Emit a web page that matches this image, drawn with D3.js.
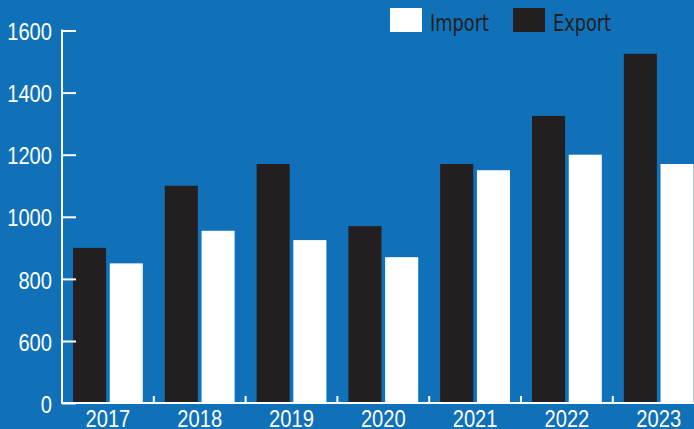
<!DOCTYPE html>
<html>
<head>
<meta charset="utf-8">
<script src="https://cdn.jsdelivr.net/npm/d3@7"></script>
<style>
  html, body { margin: 0; padding: 0; background: #1071b9; overflow: hidden; }
  svg { display: block; font-family: "DejaVu Sans Condensed", "Liberation Sans", sans-serif; }
</style>
</head>
<body>
<svg id="chart" width="694" height="429"></svg>
<script>
const years = ["2017", "2018", "2019", "2020", "2021", "2022", "2023"];
const seriesNames = ["Export", "Import"];
const exportValues = [900, 1100, 1170, 970, 1170, 1325, 1525];
const importValues = [850, 955, 925, 870, 1150, 1200, 1170];
const yTicks = [0, 600, 800, 1000, 1200, 1400, 1600];

const colors = { Export: "#231f20", Import: "#ffffff" };

const width = 694, height = 429;
const digitW = 11.2; // narrow font look, squeezed with textLength
const svg = d3.select("#chart");

// broken axis: 0 sits one step below 600
const y = d3.scaleLinear()
    .domain([0, 600, 1600])
    .range([403, 341, 30.5]);

const step = 91.8;
const x0 = d3.scaleBand()
    .domain(years)
    .range([62, 62 + step * years.length])
    .padding(0);

const x1 = d3.scaleBand()
    .domain(seriesNames)
    .range([11, step - 11])
    .paddingInner(0.1);

const rows = years.map(function(yr, i) {
    return { year: yr, Export: exportValues[i], Import: importValues[i] };
});

// bars
const groups = svg.append("g")
    .selectAll("g")
    .data(rows)
    .join("g")
    .attr("transform", d => `translate(${x0(d.year)},0)`);

groups.selectAll("rect")
    .data(d => seriesNames.map(k => ({ key: k, value: d[k] })))
    .join("rect")
    .attr("x", d => x1(d.key))
    .attr("width", x1.bandwidth())
    .attr("y", d => y(d.value))
    .attr("height", d => y(0) - y(d.value))
    .attr("fill", d => colors[d.key]);

// y axis
const yAxis = svg.append("g")
    .attr("transform", "translate(62,0)")
    .call(d3.axisRight(y).tickValues(yTicks).tickSize(14).tickFormat(d3.format("d")));
yAxis.select(".domain").attr("stroke", "#fff").attr("stroke-width", 2)
    .attr("d", `M0,${y(1600) - 1}V${y(0)}`);
yAxis.selectAll(".tick line").attr("stroke", "#fff").attr("stroke-width", 2);
yAxis.selectAll(".tick text")
    .attr("x", -10)
    .attr("text-anchor", "end")
    .attr("fill", "#fff")
    .attr("font-size", 24)
    .attr("dy", "0.38em")
    .attr("textLength", d => String(d).length * digitW)
    .attr("lengthAdjust", "spacingAndGlyphs");

// x axis
const xAxis = svg.append("g")
    .attr("transform", `translate(0,${y(0)})`)
    .call(d3.axisBottom(x0).tickSize(0));
xAxis.select(".domain").attr("stroke", "#fff").attr("stroke-width", 2)
    .attr("d", `M61,0H${width}`);
xAxis.selectAll(".tick text")
    .attr("fill", "#fff")
    .attr("font-size", 23)
    .attr("y", 23.5)
    .attr("dy", 0)
    .attr("textLength", 4 * digitW)
    .attr("lengthAdjust", "spacingAndGlyphs");

// small boundary ticks between groups, pointing up
svg.append("g")
    .selectAll("line")
    .data(years.slice(1))
    .join("line")
    .attr("x1", d => x0(d))
    .attr("x2", d => x0(d))
    .attr("y1", y(0))
    .attr("y2", y(0) - 7)
    .attr("stroke", "#fff")
    .attr("stroke-width", 2);

// legend
const legendItems = [
    { key: "Import", x: 390, w: 59 },
    { key: "Export", x: 513, w: 58 }
];
const legend = svg.append("g")
    .selectAll("g")
    .data(legendItems)
    .join("g")
    .attr("transform", d => `translate(${d.x},8)`);
legend.append("rect")
    .attr("width", 32)
    .attr("height", 24)
    .attr("fill", d => colors[d.key]);
legend.append("text")
    .attr("x", 40)
    .attr("y", 22.5)
    .attr("font-size", 23)
    .attr("fill", "#231f20")
    .attr("textLength", d => d.w)
    .attr("lengthAdjust", "spacingAndGlyphs")
    .text(d => d.key);
</script>
</body>
</html>
